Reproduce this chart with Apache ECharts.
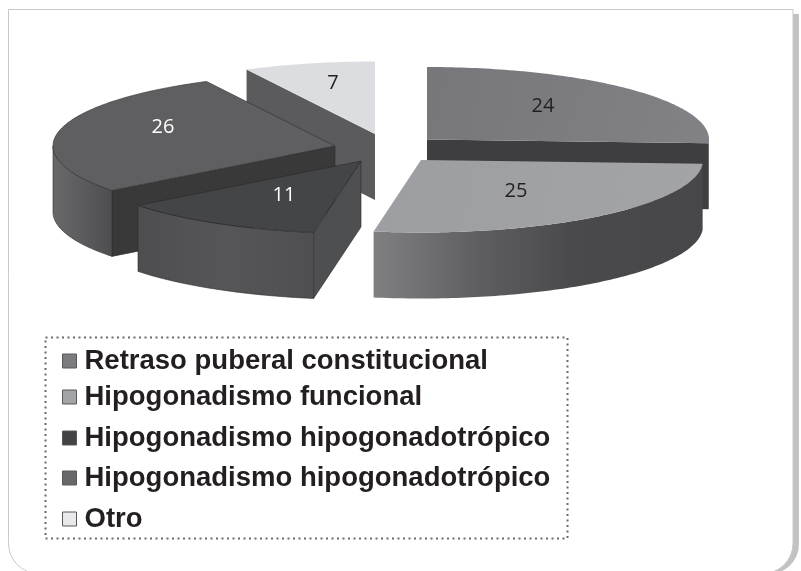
<!DOCTYPE html>
<html><head><meta charset="utf-8">
<style>html,body{margin:0;padding:0;background:#fff}#c{width:801px;height:571px}</style>
<script src="https://cdn.jsdelivr.net/npm/echarts@6/dist/echarts.min.js"></script>
</head><body><div id="c"></div>
<script>
// ---- data ----
var categories = ['Retraso puberal constitucional','Hipogonadismo funcional','Hipogonadismo hipogonadotrópico','Hipogonadismo hipogonadotrópico ','Otro'];
var values = [24, 25, 11, 26, 7];
// ---- layout: pie radii and the exploded centre of each slice ----
var RX = 282, RY = 72.5, DEPTH = 66;
var centres = [[427,139.5],[421,160],[361,161],[335,146],[375,134]];
var labelPos = [[543,106],[516,191],[284,195],[163,127],[333,83]];
var labelColors = ['#231f20','#231f20','#ffffff','#ffffff','#231f20'];
var legendTops = [347,383,424,464,505];
// ---- styles ----
function grad(stops){return {type:'linear',x:0,y:0,x2:1,y2:0,colorStops:stops.map(function(c,i){return {offset:c[0],color:c[1]};})};}
var topFill = [
  {type:'linear',x:0,y:0,x2:1,y2:1,colorStops:[{offset:0,color:'#77777b'},{offset:1,color:'#828286'}]},
  {type:'linear',x:0,y:0,x2:1,y2:1,colorStops:[{offset:0,color:'#9d9ea2'},{offset:1,color:'#a3a4a8'}]},
  '#444547','#5f5f61','#dcdde0'];
var rimFill = [
  '#3c3c3e',
  grad([[0,'#808083'],[0.3,'#606062'],[0.6,'#4a4a4c'],[1,'#474749']]),
  grad([[0,'#4e4e50'],[0.5,'#565658'],[1,'#4f4f51']]),
  grad([[0,'#69696b'],[0.4,'#5e5e60'],[1,'#4e4e50']]),
  '#5b5b5d'];
var faceFill = ['#3e3e40','#3e3e40','#4e4f51','#39393a','#5b5b5d'];
var edge = ['rgba(0,0,0,0)','rgba(0,0,0,0)','#2a2a2b','#2e2e2f','rgba(0,0,0,0)'];
var swatch = ['#7c7c80','#a3a4a8','#434345','#68686a','#e8e9eb'];
var drawOrder = [4,3,0,2,1];

var total = values.reduce(function(a,b){return a+b;},0);
function startOf(i){var s=0;for(var k=0;k<i;k++)s+=values[k];return s/total*360;}
function pt(c,deg,dy){var t=deg*Math.PI/180;return [c[0]+RX*Math.sin(t),c[1]-RY*Math.cos(t)+(dy||0)];}
function arc(c,a,b,dy){var n=Math.max(2,Math.ceil(Math.abs(b-a))),p=[];for(var k=0;k<=n;k++)p.push(pt(c,a+(b-a)*k/n,dy));return p;}
function poly(points,fill,stroke,w){return {type:'polygon',silent:true,shape:{points:points},style:{fill:fill,stroke:stroke,lineWidth:w}};}

function renderSlice(i){
  return function(params,api){
    var v=api.value(0),c=centres[i],a=startOf(i),b=a+v/total*360,ch=[];
    var sinA=Math.sin(a*Math.PI/180),sinB=Math.sin(b*Math.PI/180);
    function face(deg){var p=pt(c,deg);return poly([c,p,[p[0],p[1]+DEPTH],[c[0],c[1]+DEPTH]],faceFill[i],edge[i],0.6);}
    if(sinA<-1e-6)ch.push(face(a));
    if(sinB>1e-6)ch.push(face(b));
    var r0=Math.max(a,90),r1=Math.min(b,270);
    if(r1>r0){ch.push(poly(arc(c,r0,r1,0).concat(arc(c,r1,r0,DEPTH)),rimFill[i],edge[i],0.6));}
    ch.push(poly([c].concat(arc(c,a,b,0)),topFill[i],edge[i],0.6));
    ch.push({type:'text',silent:true,style:{text:String(v),x:labelPos[i][0],y:labelPos[i][1],fill:labelColors[i],
      font:'20px "Open Sans"',textAlign:'center',textVerticalAlign:'middle'}});
    return {type:'group',children:ch};
  };
}

var series = drawOrder.map(function(i,o){
  return {type:'custom',name:categories[i],coordinateSystem:'none',z:2+o,silent:true,animation:false,clip:false,
    itemStyle:{color:swatch[i]},renderItem:renderSlice(i),data:[[values[i]]]};
});
var legends = categories.map(function(n,i){
  return {orient:'vertical',left:62,top:legendTops[i],padding:0,selectedMode:false,itemWidth:14,itemHeight:14,itemGap:0,
    formatter:function(s){return s.trim();},
    textStyle:{fontFamily:'"Liberation Sans"',fontWeight:'bold',fontSize:27.5,color:'#231f20',padding:[0,0,0,3]},
    data:[{name:n,icon:'rect',itemStyle:{color:swatch[i],borderColor:'#58585a',borderWidth:1}}]};
});

var chart = echarts.init(document.getElementById('c'),null,{renderer:'canvas'});
chart.setOption({
  animation:false,backgroundColor:'#ffffff',
  legend:legends,
  graphic:{elements:[
    {type:'rect',z:-3,silent:true,shape:{x:30,y:14,width:769,height:560,r:[0,0,30,30]},style:{fill:'#c2c2c2'}},
    {type:'rect',z:-2,silent:true,shape:{x:8.5,y:9.5,width:784.5,height:564,r:[0,0,30,30]},style:{fill:'#ffffff',stroke:'#c9c9c9',lineWidth:1}},
    {type:'rect',z:-1,silent:true,shape:{x:45.5,y:337.5,width:522,height:201},style:{fill:'none',stroke:'#6a6a6c',lineWidth:2,lineDash:[2,3.5]}}
  ]},
  series:series
});
</script></body></html>
